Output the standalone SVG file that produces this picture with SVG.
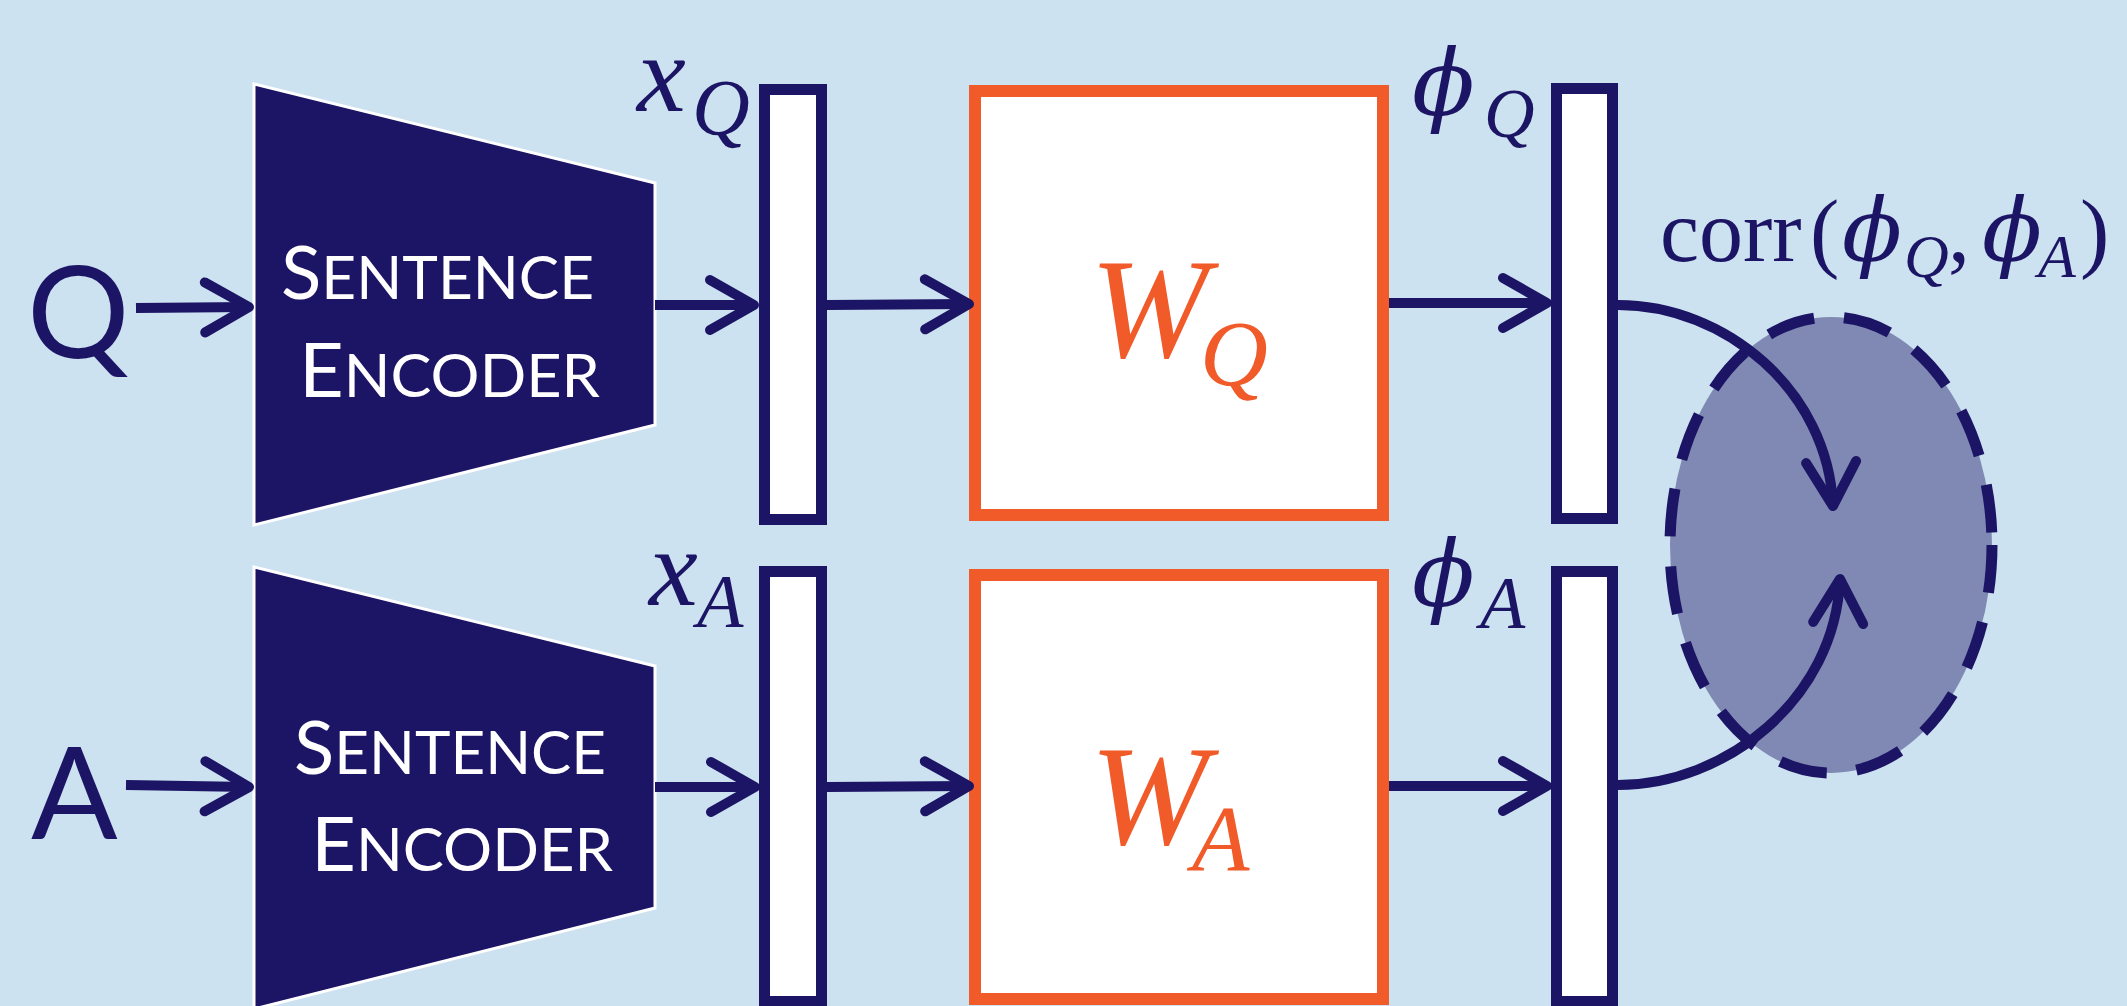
<svg xmlns="http://www.w3.org/2000/svg" width="2127" height="1006" viewBox="0 0 2127 1006">
<style>
.enc{fill:#1c1464;stroke:#ffffff;stroke-width:3}
.bar{fill:#ffffff;stroke:#1c1464;stroke-width:11}
.mat{fill:#ffffff;stroke:#f15a29;stroke-width:12}
.lbl{font-family:Lato,"Open Sans",sans-serif;fill:#ffffff}
.io{font-family:Lato,"Open Sans",sans-serif;fill:#1c1464;font-size:128px}
.m{font-family:"Liberation Serif","DejaVu Serif",serif;fill:#1c1464}
.phi{font-family:"DejaVu Serif","Liberation Serif",serif;font-style:italic}
.mi{font-style:italic}
.or{fill:#f15a29}
.con{fill:none;stroke:#1c1464;stroke-width:10}
</style>
<defs>
<marker id="ah" markerUnits="userSpaceOnUse" markerWidth="100" markerHeight="100" viewBox="-60 -50 100 100" refX="0" refY="0" orient="auto" overflow="visible">
<path d="M-44,-25 L0,0 L-44,25" fill="none" stroke="#1c1464" stroke-width="10" stroke-linecap="round" stroke-linejoin="round"/>
</marker>
</defs>
<rect x="0" y="0" width="2127" height="1006" fill="#cce2f0"/>

<g id="input-q"><text class="io" x="27" y="358">Q</text></g>
<g id="input-a"><text class="io" x="31" y="839">A</text></g>

<g id="encoder-q">
<polygon class="enc" points="254,84 655,183 655,425 254,525"/>
<text class="lbl" x="281" y="299" textLength="313" lengthAdjust="spacingAndGlyphs"><tspan font-size="74">S</tspan><tspan font-size="60">ENTENCE</tspan></text>
<text class="lbl" x="299" y="397" textLength="301" lengthAdjust="spacingAndGlyphs"><tspan font-size="76">E</tspan><tspan font-size="60">NCODER</tspan></text>
</g>
<g id="encoder-a">
<polygon class="enc" points="254,567 655,666 655,908 254,1009"/>
<text class="lbl" x="294" y="774" textLength="312" lengthAdjust="spacingAndGlyphs"><tspan font-size="74">S</tspan><tspan font-size="60">ENTENCE</tspan></text>
<text class="lbl" x="311" y="871" textLength="302" lengthAdjust="spacingAndGlyphs"><tspan font-size="76">E</tspan><tspan font-size="60">NCODER</tspan></text>
</g>

<g id="xq">
<rect class="bar" x="764.5" y="89.5" width="57" height="430"/>
<text class="m mi" x="637" y="111" font-size="110">x</text>
<text class="m mi" x="692" y="135" font-size="80">Q</text>
</g>
<g id="xa">
<rect class="bar" x="764.5" y="571.5" width="57" height="430"/>
<text class="m mi" x="649" y="605" font-size="110">x</text>
<text class="m mi" x="697" y="627" font-size="76">A</text>
</g>

<g id="wq">
<rect class="mat" x="975" y="91" width="408" height="424"/>
<text class="m mi or" x="1090" y="357" font-size="142">W</text>
<text class="m mi or" x="1200" y="385" font-size="94">Q</text>
</g>
<g id="wa">
<rect class="mat" x="975" y="575" width="408" height="424"/>
<text class="m mi or" x="1090" y="844" font-size="142">W</text>
<text class="m mi or" x="1192" y="870" font-size="94">A</text>
</g>

<g id="phiq">
<rect class="bar" x="1556.5" y="88.5" width="56" height="430"/>
<text class="m phi" x="1412" y="115" font-size="92">ϕ</text>
<text class="m mi" x="1484" y="137" font-size="70">Q</text>
</g>
<g id="phia">
<rect class="bar" x="1556.5" y="571.5" width="56" height="430"/>
<text class="m phi" x="1412" y="606" font-size="92">ϕ</text>
<text class="m mi" x="1480" y="628" font-size="74">A</text>
</g>

<g id="corr">
<ellipse cx="1831" cy="545" rx="161" ry="228" fill="#7f89b3" stroke="#1c1464" stroke-width="11" stroke-dasharray="48 30"/>
<text class="m" y="261" font-size="88"><tspan x="1660">corr</tspan><tspan x="1810">(</tspan><tspan x="1842" class="phi">ϕ</tspan><tspan x="1904" y="277" font-size="62" class="mi">Q</tspan><tspan x="1948" y="261">,</tspan><tspan x="1982" class="phi">ϕ</tspan><tspan x="2038" y="277" font-size="62" class="mi">A</tspan><tspan x="2080" y="261">)</tspan></text>
</g>

<g id="connectors">
<path class="con" d="M136,308 L249,307" marker-end="url(#ah)"/>
<path class="con" d="M655,305 L754,305" marker-end="url(#ah)"/>
<path class="con" d="M827,305 L969,304" marker-end="url(#ah)"/>
<path class="con" d="M1389,303 L1547,303" marker-end="url(#ah)"/>
<path class="con" d="M126,785 L249,787" marker-end="url(#ah)"/>
<path class="con" d="M655,787 L755,787" marker-end="url(#ah)"/>
<path class="con" d="M827,787 L969,786" marker-end="url(#ah)"/>
<path class="con" d="M1389,786 L1547,786" marker-end="url(#ah)"/>
<path class="con" d="M1618,305 C1725,305 1828,390 1833,506" marker-end="url(#ah)"/>
<path class="con" d="M1618,785 C1725,785 1835,700 1840,579" marker-end="url(#ah)"/>
</g>
</svg>
